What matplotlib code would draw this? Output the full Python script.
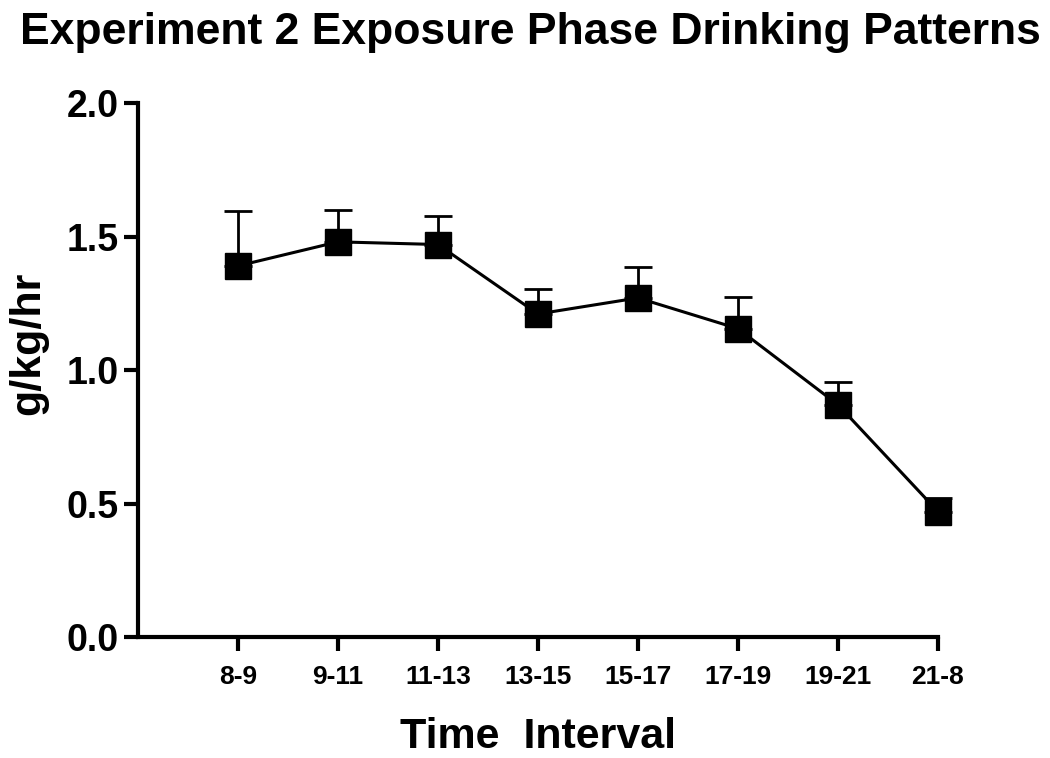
import matplotlib
matplotlib.use("Agg")
import matplotlib.pyplot as plt
import numpy as np

plt.rcParams['font.family'] = ['Liberation Sans', 'DejaVu Sans']
plt.rcParams['font.weight'] = 'bold'

intervals = ["8-9", "9-11", "11-13", "13-15", "15-17", "17-19", "19-21", "21-8"]
means = [1.39, 1.48, 1.47, 1.21, 1.27, 1.155, 0.87, 0.47]
sem = [0.205, 0.12, 0.105, 0.095, 0.115, 0.12, 0.085, 0.05]

x = np.arange(1, len(intervals) + 1)

fig = plt.figure(figsize=(10.5, 7.58), dpi=100)
ax = fig.add_axes([0.1314, 0.1596, 0.7619, 0.7045])

# upper error bars only
ax.errorbar(x, means, yerr=[np.zeros(len(sem)), sem], fmt='none',
            ecolor='black', elinewidth=2, capsize=10, capthick=2,
            clip_on=False, zorder=2)
ax.plot(x, means, color='black', linewidth=2.2, marker='s', markersize=19,
        clip_on=False, zorder=3)

ax.set_xlim(0, 8)
ax.set_ylim(0, 2.0)
ax.set_xticks(x)
ax.set_xticklabels(intervals, fontsize=19, fontweight='bold')
ax.set_yticks([0.0, 0.5, 1.0, 1.5, 2.0])
ax.set_yticklabels(["0.0", "0.5", "1.0", "1.5", "2.0"], fontsize=27,
                   fontweight='bold')

for s in ['top', 'right']:
    ax.spines[s].set_visible(False)
for s in ['left', 'bottom']:
    ax.spines[s].set_linewidth(3)
ax.tick_params(axis='both', direction='out', length=10, width=3)
ax.tick_params(axis='x', pad=10)
ax.tick_params(axis='y', pad=4)

ax.set_xlabel("Time  Interval", fontsize=31, fontweight='bold', labelpad=20)
fig.text(0.027, 0.5475, "g/kg/hr", rotation=90, ha='center', va='center',
         fontsize=31, fontweight='bold')
fig.text(0.505, 0.957, "Experiment 2 Exposure Phase Drinking Patterns",
         ha='center', va='center', fontsize=32, fontweight='bold')

fig.savefig("out.png", dpi=100)
